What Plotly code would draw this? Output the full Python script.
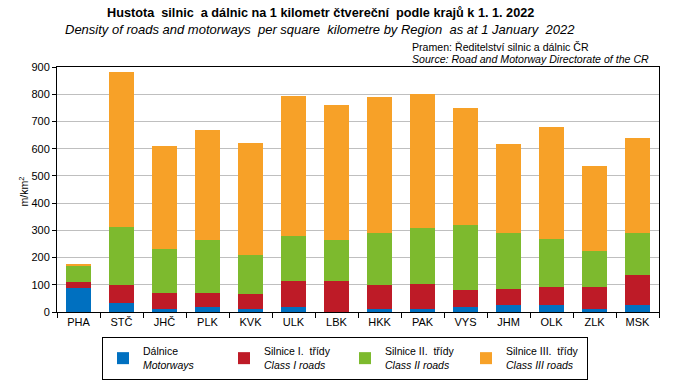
import plotly.graph_objects as go

regions = ["PHA", "STČ", "JHČ", "PLK", "KVK", "ULK", "LBK", "HKK", "PAK", "VYS", "JHM", "OLK", "ZLK", "MSK"]
motorways = [90, 34, 10, 17, 12, 20, 1, 10, 10, 17, 24, 27, 10, 24]
class1 = [22, 64, 61, 54, 55, 93, 112, 90, 94, 63, 59, 66, 83, 113]
class2 = [59, 215, 162, 195, 143, 168, 153, 191, 206, 239, 206, 176, 130, 154]
class3 = [3, 569, 378, 404, 411, 514, 496, 500, 489, 429, 329, 411, 315, 349]

series_names = [
    "Dálnice<br><i>Motorways</i>",
    "Silnice I.  třídy<br><i>Class I roads</i>",
    "Silnice II.  třídy<br><i>Class II roads</i>",
    "Silnice III.  třídy<br><i>Class III roads</i>",
]
series_values = [motorways, class1, class2, class3]
colors = ["#0070C0", "#BE1B27", "#7DBA2E", "#F7A128"]

FONT = "Liberation Sans, Arial, sans-serif"
L, R, T, B = 57, 659, 67, 312
PW, PH = R - L, B - T

fig = go.Figure()
for name, vals, col in zip(series_names, series_values, colors):
    fig.add_trace(go.Bar(x=regions, y=vals, name=name, marker=dict(color=col, line=dict(width=0))))

fig.update_layout(
    barmode="stack",
    bargap=0.44,
    width=676, height=381,
    margin=dict(l=L, r=676 - R, t=T, b=381 - B, autoexpand=False),
    paper_bgcolor="white", plot_bgcolor="white",
    font=dict(family=FONT, size=11, color="black"),
    showlegend=True,
    legend=dict(
        orientation="h", x=(345 - L) / PW, xanchor="center", y=-(337 - B) / PH, yanchor="top",
        bordercolor="black", borderwidth=1,
        font=dict(size=10.5, family=FONT),
        entrywidth=76, entrywidthmode="pixels",
        itemwidth=30, traceorder="normal",
    ),
)

fig.update_xaxes(
    showline=True, linecolor="black", linewidth=1, mirror=True,
    ticks="outside", tickson="boundaries", ticklen=5, tickcolor="black",
    tickfont=dict(size=11), showgrid=False,
)
fig.update_yaxes(
    range=[0, 900], dtick=100, showline=True, linecolor="black", linewidth=1, mirror=True,
    ticks="outside", ticklen=4, tickcolor="black",
    showgrid=True, gridcolor="#BFBFBF", gridwidth=1,
    tickfont=dict(size=11), zeroline=False,
)

ann = [
    dict(text="<b>Hustota  silnic  a dálnic na 1 kilometr čtvereční  podle krajů k 1. 1. 2022</b>", x=320, y=13, size=12.7, xanchor="center"),
    dict(text="<i>Density of roads and motorways  per square  kilometre by Region  as at 1 January  2022</i>", x=320, y=30, size=13, xanchor="center"),
    dict(text="Pramen: Ředitelství silnic a dálnic ČR", x=410, y=47, size=10.6, xanchor="left"),
    dict(text="<i>Source: Road and Motorway Directorate of the CR</i>", x=410, y=59, size=10.6, xanchor="left"),
]
for a in ann:
    fig.add_annotation(
        text=a["text"],
        x=(a["x"] - L) / PW, y=1 + (T - a["y"]) / PH,
        xref="paper", yref="paper", xanchor=a["xanchor"], yanchor="middle",
        showarrow=False, font=dict(size=a["size"], family=FONT, color="black"),
    )
fig.add_annotation(
    text="m/km<sup>2</sup>", textangle=-90,
    x=(14 - L) / PW, y=(B - 192) / PH, xref="paper", yref="paper",
    showarrow=False, font=dict(size=10.5, family=FONT),
)

fig.write_html("out.html", config={"displayModeBar": False},
               post_script="document.body.style.margin='0';document.body.style.padding='0';")
